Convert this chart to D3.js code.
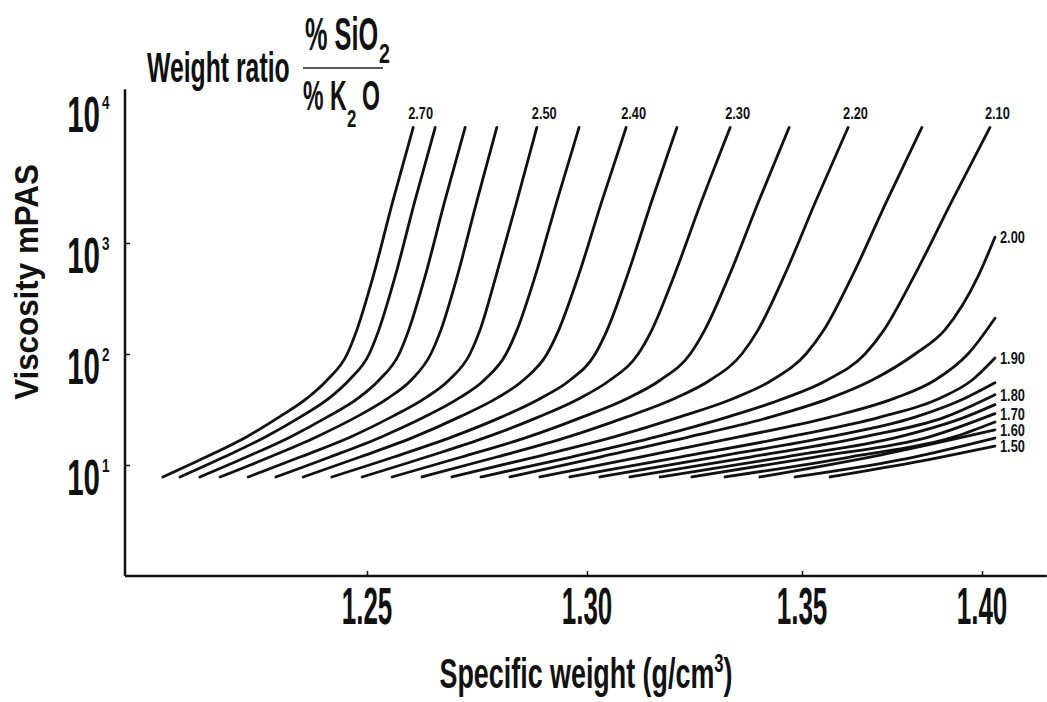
<!DOCTYPE html>
<html>
<head>
<meta charset="utf-8">
<script src="https://cdn.jsdelivr.net/npm/d3@7"></script>
<style>
  body { margin: 0; background: #fff; }
  svg { display: block; }
  .curve { fill: none; stroke: #111; stroke-width: 2.8; stroke-linecap: round; }
  .axis-line { stroke: #111; stroke-width: 2.5; fill: none; }
  text { font-family: "Liberation Sans", Arial, sans-serif; font-weight: bold; fill: #111; }
</style>
</head>
<body>
<div id="chart"></div>
<script>
// weight ratio SiO2 / K2O of each curve
const ratios = [2.70, 2.65, 2.60, 2.55, 2.50, 2.45, 2.40, 2.35, 2.30, 2.25, 2.20, 2.15, 2.10,
                2.00, 1.95, 1.90, 1.85, 1.80, 1.75, 1.70, 1.65, 1.60, 1.55, 1.50];
const topLabelled = [2.70, 2.50, 2.40, 2.30, 2.20, 2.10];
const sideLabelled = [2.00, 1.90, 1.80, 1.70, 1.60, 1.50];

// specific weight (g/cm3)
const densities = [
  [1.2036, 1.2134, 1.2227, 1.2300, 1.2364, 1.2409, 1.2455, 1.2477, 1.2514, 1.2559, 1.2605],
  [1.2075, 1.2175, 1.2270, 1.2348, 1.2414, 1.2459, 1.2505, 1.2527, 1.2564, 1.2609, 1.2655],
  [1.2120, 1.2226, 1.2327, 1.2409, 1.2480, 1.2527, 1.2573, 1.2595, 1.2632, 1.2677, 1.2723],
  [1.2166, 1.2279, 1.2386, 1.2475, 1.2548, 1.2600, 1.2645, 1.2668, 1.2705, 1.2750, 1.2795],
  [1.2230, 1.2348, 1.2464, 1.2555, 1.2632, 1.2686, 1.2734, 1.2757, 1.2793, 1.2841, 1.2886],
  [1.2293, 1.2416, 1.2534, 1.2630, 1.2709, 1.2766, 1.2816, 1.2841, 1.2882, 1.2932, 1.2982],
  [1.2355, 1.2484, 1.2609, 1.2709, 1.2795, 1.2855, 1.2909, 1.2936, 1.2980, 1.3035, 1.3091],
  [1.2420, 1.2561, 1.2695, 1.2805, 1.2895, 1.2961, 1.3019, 1.3047, 1.3093, 1.3151, 1.3209],
  [1.2489, 1.2635, 1.2775, 1.2889, 1.2984, 1.3053, 1.3119, 1.3151, 1.3202, 1.3267, 1.3333],
  [1.2557, 1.2715, 1.2868, 1.2989, 1.3095, 1.3170, 1.3240, 1.3274, 1.3330, 1.3400, 1.3470],
  [1.2625, 1.2795, 1.2959, 1.3091, 1.3205, 1.3286, 1.3360, 1.3398, 1.3458, 1.3539, 1.3628],
  [1.2693, 1.2882, 1.3065, 1.3214, 1.3342, 1.3430, 1.3511, 1.3561, 1.3639, 1.3736, 1.3833],
  [1.2759, 1.2964, 1.3163, 1.3326, 1.3460, 1.3569, 1.3675, 1.3728, 1.3811, 1.3917, 1.4022],
  [1.2825, 1.3030, 1.3240, 1.3426, 1.3578, 1.3694, 1.3814, 1.3897, 1.3989, 1.4036],
  [1.2893, 1.3123, 1.3356, 1.3578, 1.3758, 1.3869, 1.3961, 1.4036],
  [1.2961, 1.3216, 1.3472, 1.3717, 1.3883, 1.3972, 1.4036],
  [1.3030, 1.3298, 1.3578, 1.3814, 1.3953, 1.4036],
  [1.3100, 1.3379, 1.3675, 1.3897, 1.4036],
  [1.3170, 1.3460, 1.3772, 1.3953, 1.4036],
  [1.3244, 1.3536, 1.3856, 1.4036],
  [1.3321, 1.3633, 1.3925, 1.4036],
  [1.3402, 1.3717, 1.4036],
  [1.3484, 1.3772, 1.4036],
  [1.3578, 1.3814, 1.4036]
];

// viscosity (mPa s) at the same points
const viscosities = [
  [7.8, 11.8, 18, 27, 40, 58, 100, 165, 500, 2000, 6600],
  [7.8, 11.8, 18, 27, 40, 58, 100, 165, 500, 2000, 6600],
  [7.8, 11.8, 18, 27, 40, 58, 100, 165, 500, 2000, 6600],
  [7.8, 11.8, 18, 27, 40, 58, 100, 165, 500, 2000, 6600],
  [7.8, 11.8, 18, 27, 40, 58, 100, 165, 500, 2000, 6600],
  [7.8, 11.8, 18, 27, 40, 58, 100, 165, 500, 2000, 6600],
  [7.8, 11.8, 18, 27, 40, 58, 100, 165, 500, 2000, 6600],
  [7.8, 11.8, 18, 27, 40, 58, 100, 165, 500, 2000, 6600],
  [7.8, 11.8, 18, 27, 40, 58, 100, 165, 500, 2000, 6600],
  [7.8, 11.8, 18, 27, 40, 58, 100, 165, 500, 2000, 6600],
  [7.8, 11.8, 18, 27, 40, 58, 100, 165, 500, 2000, 6600],
  [7.8, 11.8, 18, 27, 40, 58, 100, 165, 500, 2000, 6600],
  [7.8, 11.8, 18, 27, 40, 58, 100, 165, 500, 2000, 6600],
  [7.8, 11.8, 18, 27, 40, 58, 100, 165, 500, 1100],
  [7.8, 11.8, 18, 27, 40, 58, 100, 210],
  [7.8, 11.8, 18, 27, 40, 58, 92],
  [7.8, 11.8, 18, 27, 40, 55],
  [7.8, 11.8, 18, 27, 43],
  [7.8, 11.8, 18, 27, 35],
  [7.8, 11.8, 18, 29],
  [7.8, 11.8, 18, 24.4],
  [7.8, 12.3, 20.7],
  [7.8, 11.1, 17.5],
  [7.8, 10.6, 14.8]
];

const xTicks = [1.25, 1.30, 1.35, 1.40];
const yTicks = [10, 100, 1000];
const yLabels = [10, 100, 1000, 10000];
const xAxisExtent = [1.195, 1.418];
const yAxisExtent = [1, 12300];

const width = 1047, height = 702;

const svg = d3.select("#chart").append("svg")
  .attr("width", width)
  .attr("height", height);

// the printed axis is not quite uniform, so the scales follow the printed ticks
const x = d3.scaleLinear()
  .domain([1.25, 1.30, 1.35, 1.40])
  .range([367, 587, 802, 982]);

const y = d3.scaleLog()
  .domain([1, 10, 100, 1000, 10000])
  .range([576, 465, 354, 243, 102]);

function label(parent, px, py, str, size, sx, anchor) {
  return parent.append("text")
    .attr("transform", `translate(${px},${py}) scale(${sx},1)`)
    .attr("text-anchor", anchor || "start")
    .style("font-size", size + "px")
    .text(str);
}

// axes
svg.append("line").attr("class", "axis-line")
  .attr("x1", x(xAxisExtent[0])).attr("x2", x(xAxisExtent[0]))
  .attr("y1", y(yAxisExtent[0])).attr("y2", y(yAxisExtent[1]));
svg.append("line").attr("class", "axis-line")
  .attr("x1", x(xAxisExtent[0])).attr("x2", x(xAxisExtent[1]))
  .attr("y1", y(yAxisExtent[0])).attr("y2", y(yAxisExtent[0]));

const xAxis = svg.append("g")
  .attr("transform", `translate(0,${y(yAxisExtent[0])})`)
  .call(d3.axisBottom(x).tickValues(xTicks).tickSizeInner(-5).tickSizeOuter(0).tickFormat(""));
xAxis.select(".domain").remove();
xAxis.selectAll(".tick line").attr("stroke", "#111").attr("stroke-width", 1.5);

const yAxis = svg.append("g")
  .attr("transform", `translate(${x(xAxisExtent[0])},0)`)
  .call(d3.axisLeft(y).tickValues(yTicks).tickSizeInner(-5).tickSizeOuter(0).tickFormat(""));
yAxis.select(".domain").remove();
yAxis.selectAll(".tick line").attr("stroke", "#111").attr("stroke-width", 1.5);

xTicks.forEach(t => {
  label(svg, x(t), y(yAxisExtent[0]) + 48, t.toFixed(2), 52, 0.5, "middle");
});

yLabels.forEach(v => {
  const base = y(v) + 30;
  const e = Math.round(Math.log10(v));
  label(svg, 100, base, "10", 50, 0.59, "end");
  label(svg, 102, base - 23, String(e), 18, 0.75, "start");
});

// axis titles
const xt = svg.append("text")
  .attr("transform", `translate(586,688) scale(0.64,1)`)
  .attr("text-anchor", "middle")
  .style("font-size", "42px");
xt.append("tspan").text("Specific weight (g/cm");
xt.append("tspan").attr("dy", -16).style("font-size", "26px").text("3");
xt.append("tspan").attr("dy", 16).text(")");

svg.append("text")
  .attr("transform", `translate(38,282) rotate(-90) scale(0.95,1)`)
  .attr("text-anchor", "middle")
  .style("font-size", "33px")
  .text("Viscosity mPAS");

// heading with the ratio fraction
label(svg, 147, 82, "Weight ratio", 42, 0.59, "start");
label(svg, 305, 50, "% SiO", 46, 0.55, "start");
label(svg, 379, 63, "2", 28, 0.7, "start");
svg.append("line")
  .attr("x1", 303).attr("x2", 383).attr("y1", 68).attr("y2", 68)
  .attr("stroke", "#222").attr("stroke-width", 1.6);
label(svg, 303, 110, "% K", 42, 0.55, "start");
label(svg, 347, 127, "2", 24, 0.7, "start");
label(svg, 362, 110, "O", 42, 0.55, "start");

// curves
const line = d3.line()
  .x(d => x(d[0]))
  .y(d => y(d[1]))
  .curve(d3.curveMonotoneX);

const series = ratios.map((r, i) => ({
  ratio: r,
  points: densities[i].map((d, j) => [d, viscosities[i][j]])
}));

svg.selectAll(".curve")
  .data(series)
  .enter()
  .append("path")
  .attr("class", "curve")
  .attr("d", d => line(d.points));

series.forEach(s => {
  const last = s.points[s.points.length - 1];
  if (topLabelled.includes(s.ratio)) {
    label(svg, x(last[0]) - 5, 119, s.ratio.toFixed(2), 16, 0.8, "start");
  } else if (sideLabelled.includes(s.ratio)) {
    label(svg, 1000, y(last[1]) + 6, s.ratio.toFixed(2), 16, 0.8, "start");
  }
});
</script>
</body>
</html>
